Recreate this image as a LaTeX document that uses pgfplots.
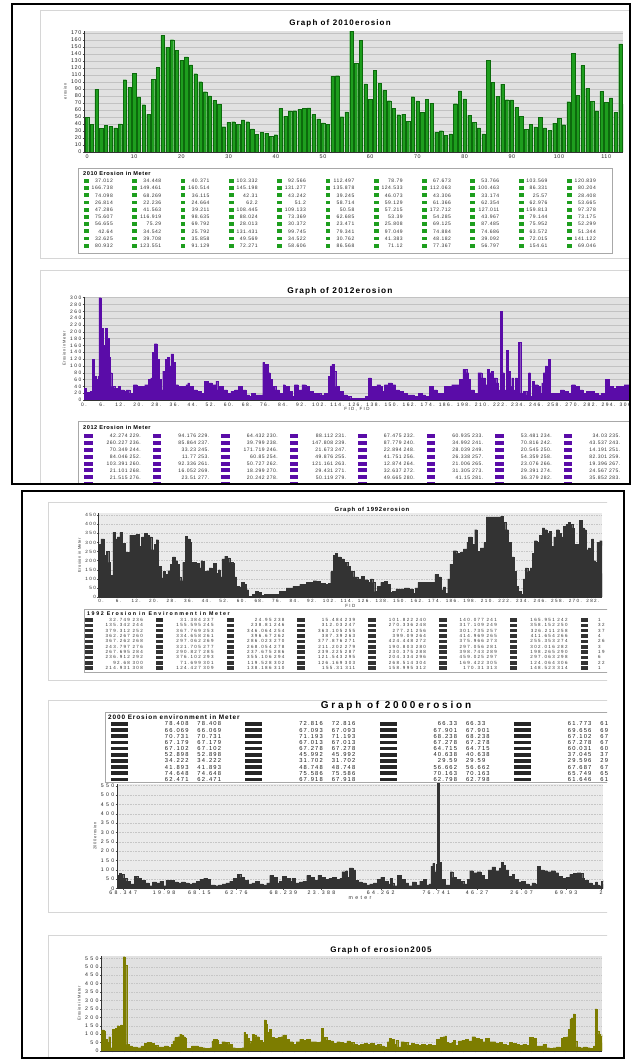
\documentclass[border=0pt]{standalone}
\usepackage{fontspec}
\setmainfont{Liberation Sans}[LetterSpace=10]
\newfontfamily\ttl{Liberation Sans}[LetterSpace=14]
\newfontfamily\ttw{Liberation Sans}[LetterSpace=28]
\newfontfamily\wa{Liberation Sans}[LetterSpace=30]
\newfontfamily\wb{Liberation Sans}[LetterSpace=45]
\newfontfamily\wc{Liberation Sans}[LetterSpace=20]
\usepackage{pgfplots}
\pgfplotsset{compat=1.18}
\definecolor{bgA}{HTML}{E1E1E1}
\definecolor{bgB}{HTML}{EBEBEB}
\definecolor{gridA}{HTML}{C2C2C2}
\definecolor{gridB}{HTML}{C6C6C6}
\definecolor{grn}{HTML}{1E9E1E}
\definecolor{grnd}{HTML}{0C6A0C}
\definecolor{pur}{HTML}{5A0CA8}
\definecolor{drk}{HTML}{333333}
\definecolor{olv}{HTML}{7D7D00}
\definecolor{lin}{HTML}{D6D6D6}
\definecolor{tbx}{HTML}{A8A8A8}
\newcommand\fs[1]{\fontsize{#1}{#1}\selectfont}
\pgfplotsset{
  jf/.style={
    scale only axis, anchor=south west,
    axis x line*=bottom, axis y line*=left,
    axis line style={black!80, line width=0.5pt},
    tick align=outside, major tick length=1.5pt,
    tick style={black!70, line width=0.35pt},
    ymajorgrids,
    axis background/.style={fill=bgA},
    /pgf/number format/assume math mode=true,
    tick label style={text=black!85, inner sep=1pt},
    ylabel style={text=black!80, font=\fs{4}},
    xlabel style={text=black!80, font=\wa\fs{4.5}, inner sep=0.5pt},
    scaled ticks=false,
  }
}
\begin{document}
\begin{tikzpicture}[x=1pt,y=1pt]
\useasboundingbox (0,0) rectangle (634,1063);
\fill[white] (0,0) rectangle (634,1063);

% ================= TOP BOX =================
\begin{scope}
\clip (12,579) rectangle (630,1059);
\draw[lin, line width=0.6pt] (40,1053) -- (634,1053);
\draw[lin, line width=0.6pt] (40,805) -- (634,805);
\draw[lin, line width=0.6pt] (40,793) -- (634,793);
\draw[lin, line width=0.6pt] (40,1053) -- (40,805);
\draw[lin, line width=0.6pt] (40,793) -- (40,570);

\node[font=\ttl\bfseries\fs{8}] at (340,1040) {Graph of 2010erosion};
\begin{axis}[jf, at={(84pt,911pt)}, width=539pt, height=121pt,
  ybar, bar width=3.3pt,
  xmin=-0.64, xmax=113.56, ymin=0, ymax=173,
  xtick={0,10,...,110}, ytick={0,10,...,170},
  grid style={gridA, line width=0.4pt},
  tick label style={font=\fs{5.4}},
  ylabel={erosion}]
\addplot[fill=grn, draw=grnd, line width=0.2pt] coordinates {
(0,50)(1,40)(2,90)(3,34)(4,38)(5,37.012)(6,34.448)(7,40.371)(8,103.332)(9,92.566)
(10,112.497)(11,78.79)(12,67.673)(13,53.766)(14,103.569)(15,120.839)(16,166.738)(17,149.461)(18,160.514)(19,145.198)
(20,131.277)(21,135.878)(22,124.533)(23,112.063)(24,100.463)(25,86.331)(26,80.204)(27,74.098)(28,68.269)(29,36.115)
(30,42.31)(31,43.242)(32,39.245)(33,46.073)(34,43.306)(35,33.174)(36,25.57)(37,28.408)(38,26.814)(39,22.236)
(40,24.664)(41,62.2)(42,51.2)(43,58.714)(44,59.129)(45,61.366)(46,62.354)(47,62.976)(48,53.665)(49,47.286)
(50,41.563)(51,39.211)(52,108.445)(53,109.133)(54,50.58)(55,57.215)(56,172.712)(57,127.011)(58,159.813)(59,97.378)
(60,75.607)(61,116.919)(62,98.635)(63,88.024)(64,73.369)(65,62.685)(66,53.39)(67,54.285)(68,43.967)(69,79.144)
(70,73.175)(71,56.655)(72,75.29)(73,69.792)(74,28.013)(75,30.372)(76,23.471)(77,25.808)(78,69.125)(79,87.485)
(80,75.952)(81,52.299)(82,42.64)(83,34.542)(84,25.792)(85,131.431)(86,99.745)(87,79.341)(88,97.049)(89,74.884)
(90,74.686)(91,63.572)(92,51.344)(93,32.625)(94,39.708)(95,35.858)(96,49.569)(97,34.522)(98,30.762)(99,41.383)
(100,48.182)(101,39.092)(102,72.015)(103,141.122)(104,80.932)(105,123.551)(106,91.129)(107,72.271)(108,58.606)(109,86.568)
(110,71.12)(111,77.367)(112,56.797)(113,154.61)(114,69.046)};
\end{axis}

% 2010 table
\draw[tbx, line width=0.5pt, fill=white] (78,895) rectangle (612,810);
\node[anchor=west, inner sep=0, font=\bfseries\fs{5.6}] at (83,889) {2010 Erosion in Meter};
\foreach \v [count=\i from 0] in {37.012,34.448,40.371,103.332,92.566,112.497,78.79,67.673,53.766,103.569,120.839,
166.738,149.461,160.514,145.198,131.277,135.878,124.533,112.063,100.463,86.331,80.204,
74.098,68.269,36.115,42.31,43.242,39.245,46.073,43.306,33.174,25.57,28.408,
26.814,22.236,24.664,62.2,51.2,58.714,59.129,61.366,62.354,62.976,53.665,
47.286,41.563,39.211,108.445,109.133,50.58,57.215,172.712,127.011,159.813,97.378,
75.607,116.919,98.635,88.024,73.369,62.685,53.39,54.285,43.967,79.144,73.175,
56.655,75.29,69.792,28.013,30.372,23.471,25.808,69.125,87.485,75.952,52.299,
42.64,34.542,25.792,131.431,99.745,79.341,97.049,74.884,74.686,63.572,51.344,
32.625,39.708,35.858,49.569,34.522,30.762,41.383,48.182,39.092,72.015,141.122,
80.932,123.551,91.129,72.271,58.606,86.568,71.12,77.367,56.797,154.61,69.046} {
  \pgfmathtruncatemacro\rr{\i/11}
  \pgfmathtruncatemacro\cc{\i-11*\rr}
  \fill[grn] ({84+48.3*\cc},{882-7.2*\rr-1.9}) rectangle ++(4.8,3.8);
  \node[anchor=east, inner sep=0, text=black!80, font=\fs{5}] at ({113+48.3*\cc},{882-7.2*\rr}) {\v};
}

\node[font=\ttl\bfseries\fs{8.3}] at (340,772) {Graph of 2012erosion};
\begin{axis}[jf, at={(84pt,663pt)}, width=546pt, height=103pt,
  xmin=118, xmax=1576, ymin=0, ymax=302,
  xtick={118,166.3,...,1570},
  xticklabels={0.,6.,12.,20.,28.,36.,44.,52.,60.,68.,76.,84.,92.,102.,114.,126.,138.,150.,162.,174.,186.,198.,210.,222.,234.,246.,258.,270.,282.,294.,306.},
  ytick={0,20,...,300},
  grid style={gridA, line width=0.4pt},
  tick label style={font=\wa\fs{4.9}},
  xlabel={FID, FID}, ylabel={Erosion in Meter}]
\addplot[const plot, fill=pur, draw=pur, line width=0.25pt] coordinates {
(118,35)(124,22)(135,25)(140,120)(145,70)(150,60)(155,70)(158,300)(164,210)(170,160)
(175,210)(180,180)(185,125)(188,80)(192,40)(200,35)(210,40)(215,30)(225,25)(230,30)
(240,20)(250,45)(260,40)(270,40)(280,45)(290,60)(296,65)(300,140)(306,165)(313,120)
(318,60)(323,30)(328,85)(335,120)(340,125)(345,100)(350,135)(357,110)(362,45)(370,40)
(380,40)(390,45)(395,50)(400,40)(410,30)(420,25)(430,20)(440,55)(450,50)(460,45)
(470,55)(475,30)(480,40)(490,30)(500,20)(510,25)(520,30)(530,40)(540,30)(550,15)
(560,10)(565,20)(575,15)(590,15)(595,110)(600,105)(610,80)(615,60)(620,40)(630,30)
(640,20)(650,45)(655,40)(665,25)(675,10)(680,45)(690,30)(700,45)(710,40)(720,25)
(730,20)(740,20)(750,15)(760,20)(770,70)(775,100)(780,105)(785,85)(790,40)(800,25)
(810,15)(820,10)(830,5)(860,5)(870,10)(878,65)(885,40)(895,40)(900,45)(910,40)
(915,25)(920,45)(930,50)(940,45)(950,30)(960,25)(970,20)(980,15)(1000,10)(1010,20)
(1020,15)(1030,10)(1040,40)(1050,30)(1060,20)(1080,40)(1100,45)(1120,60)(1130,90)(1140,80)
(1145,60)(1150,30)(1160,20)(1170,80)(1180,65)(1190,45)(1195,90)(1200,80)(1205,85)(1210,65)
(1220,50)(1225,30)(1230,260)(1235,80)(1240,30)(1245,145)(1250,85)(1255,40)(1260,65)(1265,30)
(1270,65)(1275,20)(1278,170)(1284,20)(1290,25)(1300,15)(1305,80)(1310,10)(1315,55)(1320,45)
(1330,40)(1335,20)(1340,50)(1345,80)(1350,100)(1355,90)(1358,120)(1362,20)(1380,20)(1390,30)
(1400,25)(1410,20)(1420,45)(1430,40)(1440,30)(1450,20)(1460,25)(1480,20)(1490,15)(1500,20)
(1510,60)(1520,40)(1530,35)(1540,40)(1550,40)(1560,45)(1576,40)} \closedcycle;
\end{axis}

% 2012 table
\draw[tbx, line width=0.5pt, fill=white] (78,642) rectangle (640,570);
\node[anchor=west, inner sep=0, font=\bfseries\fs{5.6}] at (83,635) {2012 Erosion in Meter};
\foreach \v [count=\i from 0] in {42.274 229.,94.176 229.,64.432 230.,88.112 231.,67.475 232.,60.935 233.,53.481 234.,34.03 235.,
260.227 236.,85.864 237.,39.799 238.,147.808 239.,87.779 240.,34.992 241.,70.816 242.,43.537 243.,
70.349 244.,33.23 245.,171.719 246.,21.673 247.,22.894 248.,28.039 249.,20.545 250.,14.191 251.,
84.046 252.,11.77 253.,60.85 254.,49.876 255.,41.751 256.,26.338 257.,54.359 258.,82.301 259.,
103.391 260.,92.336 261.,50.727 262.,121.161 263.,12.874 264.,21.006 265.,23.076 266.,19.396 267.,
21.101 268.,16.052 269.,18.299 270.,29.431 271.,32.637 272.,31.305 273.,29.391 274.,24.567 275.,
21.515 276.,23.51 277.,20.242 278.,50.119 279.,49.665 280.,41.15 281.,36.379 282.,35.852 283.} {
  \pgfmathtruncatemacro\rr{\i/8}
  \pgfmathtruncatemacro\cc{\i-8*\rr}
  \fill[pur] ({84+68.5*\cc},{627-6.9*\rr-2}) rectangle ++(8.5,4);
  \node[anchor=east, inner sep=0, text=black!80, font=\fs{5}] at ({141+68.5*\cc},{627-6.9*\rr}) {\v};
}
\foreach \cc in {0,...,7} {\fill[pur] ({84+68.5*\cc},{627-6.9*7-2}) rectangle ++(8.5,4);}
\end{scope}
\draw[black, line width=1.6pt] (12,579) rectangle (630,1059);

% ================= BOTTOM BOX =================
\begin{scope}
\clip (22,5) rectangle (607,572);
\draw[lin, line width=0.6pt] (48,561) -- (634,561);
\draw[lin, line width=0.6pt] (48,383) -- (634,383);
\draw[lin, line width=0.6pt] (48,363) -- (634,363);
\draw[lin, line width=0.6pt] (48,151) -- (634,151);
\draw[lin, line width=0.6pt] (48,128) -- (634,128);
\draw[lin, line width=0.6pt] (48,561) -- (48,383);
\draw[lin, line width=0.6pt] (48,363) -- (48,151);
\draw[lin, line width=0.6pt] (48,128) -- (48,0);

% 1992
\node[font=\ttl\bfseries\fs{5.9}] at (372,553) {Graph of 1992erosion};
\begin{axis}[jf, at={(98.6pt,466pt)}, width=503.4pt, height=83.5pt,
  xmin=55, xmax=1545, ymin=0, ymax=459,
  xtick={62,114,...,1518},
  xticklabels={0.,6.,12.,20.,28.,36.,44.,52.,60.,68.,76.,84.,92.,102.,114.,126.,138.,150.,162.,174.,186.,198.,210.,222.,234.,246.,258.,270.,282.},
  ytick={0,50,...,450},
  axis background/.style={fill=bgB},
  grid style={gridB, line width=0.4pt, dash pattern=on 1.5pt off 1pt},
  tick label style={font=\wa\fs{4.6}},
  xlabel={FID}, ylabel={Erosion in Meter}]
\addplot[const plot, fill=drk, draw=drk, line width=0.2pt] coordinates {
(55,290)(62,320)(72,230)(78,250)(85,190)(90,120)(97,355)(103,320)(110,330)(118,355)
(126,295)(133,245)(147,340)(165,345)(175,280)(182,330)(190,350)(198,340)(205,330)(212,260)
(220,290)(225,315)(232,170)(240,105)(245,140)(252,125)(260,145)(267,180)(274,220)(282,200)
(288,180)(293,110)(298,90)(304,190)(312,335)(318,320)(325,300)(330,190)(345,185)(352,160)
(358,200)(364,195)(368,140)(376,145)(382,160)(390,145)(395,185)(402,130)(410,150)(415,110)
(420,210)(428,225)(436,215)(443,190)(452,185)(457,110)(463,60)(472,55)(478,80)(485,70)
(492,40)(498,5)(510,15)(518,30)(527,25)(535,10)(545,15)(575,15)(590,30)(610,50)
(630,60)(650,70)(670,80)(690,90)(700,85)(710,75)(725,70)(735,75)(742,140)(750,230)
(756,240)(762,220)(772,210)(782,190)(792,170)(800,140)(810,110)(822,100)(832,115)(842,95)
(852,80)(860,100)(866,80)(872,30)(880,60)(890,80)(900,85)(910,70)(918,25)(925,30)
(935,45)(960,50)(975,45)(985,20)(992,50)(1000,80)(1040,80)(1050,125)(1060,110)(1068,40)
(1075,55)(1082,20)(1088,100)(1095,180)(1105,255)(1115,240)(1125,245)(1135,265)(1145,300)(1150,330)
(1160,290)(1168,370)(1175,250)(1185,270)(1195,300)(1202,440)(1245,445)(1252,410)(1260,370)(1268,300)
(1276,220)(1284,140)(1292,60)(1298,30)(1306,15)(1312,100)(1318,160)(1325,140)(1332,160)(1338,240)
(1345,310)(1352,300)(1360,340)(1368,380)(1375,370)(1382,350)(1388,360)(1395,280)(1402,330)(1410,370)
(1418,350)(1425,330)(1430,390)(1438,400)(1445,410)(1452,400)(1458,380)(1462,290)(1470,290)(1478,420)
(1486,380)(1492,370)(1498,260)(1504,270)(1510,250)(1514,320)(1520,200)(1526,190)(1530,300)(1538,310)
(1545,260)} \closedcycle;
\end{axis}

% 1992 table
\draw[tbx, line width=0.5pt, fill=white] (84,454) rectangle (640,391);
\node[anchor=west, inner sep=0, font=\wa\bfseries\fs{5.3}] at (87,449) {1992 Erosion in Environment in Meter};
\foreach \v [count=\i from 0] in {32.749 236,31.384 237,24.95 238,15.484 239,101.822 240,140.077 241,165.951 242,
135.342 244,155.595 245,238.81 246,312.03 247,270.336 248,317.109 249,358.152 250,
379.312 252,367.769 253,346.064 254,363.105 255,277.21 256,301.735 257,326.211 258,
362.267 260,334.658 261,396.67 262,387.39 263,399.09 264,414.969 265,411.654 266,
367.262 268,297.062 269,286.023 270,377.876 271,424.448 272,375.966 273,255.353 274,
243.797 276,321.705 277,268.054 278,211.202 279,190.803 280,297.056 281,302.016 282,
267.695 284,290.827 285,237.675 286,239.225 287,230.375 288,398.743 289,198.265 290,
236.912 292,376.102 293,355.106 294,121.543 295,204.334 296,459.025 297,297.063 298,
92.68 300,71.699 301,119.528 302,126.169 303,268.514 304,169.422 305,124.064 306,
214.931 308,124.427 309,138.186 310,155.31 311,158.995 312,170.31 313,148.523 314} {
  \pgfmathtruncatemacro\rr{\i/7}
  \pgfmathtruncatemacro\cc{\i-7*\rr}
  \fill[drk] ({85+70.8*\cc},{443-5.35*\rr-1.8}) rectangle ++(7.5,3.6);
  \node[anchor=east, inner sep=0, text=black!80, font=\wa\fs{4.5}] at ({143+70.8*\cc},{443-5.35*\rr}) {\v};
}
\foreach \t [count=\i from 0] in {1,32,37,4,26,3,19,6,22,1} {
  \fill[drk] ({85+70.8*7},{443-5.35*\i-1.8}) rectangle ++(7.5,3.6);
  \node[anchor=west, inner sep=0, text=black!80, font=\wa\fs{4.5}] at (598,{443-5.35*\i}) {\t};
}

% 2000
\node[font=\ttw\bfseries\fs{10}] at (396,357) {Graph of 2000erosion};
\draw[tbx, line width=0.5pt, fill=white] (105,351) rectangle (640,280.5);
\node[anchor=west, inner sep=0, font=\ttl\bfseries\fs{6.4}] at (108,346) {2000 Erosion environment in Meter};
\foreach \v [count=\i from 0] in {78.408,72.816,66.33,61.773,
66.069,67.093,67.901,69.656,
70.731,71.193,68.238,67.102,
67.179,67.013,67.278,67.278,
67.102,67.278,64.715,60.031,
52.898,45.992,40.638,37.045,
34.222,31.702,29.59,29.596,
41.893,48.748,56.662,67.687,
74.648,75.586,70.163,65.749,
62.471,67.918,62.798,61.646} {
  \pgfmathtruncatemacro\rr{\i/4}
  \pgfmathtruncatemacro\cc{\i-4*\rr}
  \fill[black!85] ({111+134.3*\cc},{339-6.15*\rr-1.8}) rectangle ++(17,3.6);
  \node[anchor=center, inner sep=0, text=black!90, font=\wc\fs{5.8}] at ({193+134.3*\cc},{339-6.15*\rr}) {\v\hspace{9pt}\v};
}
\begin{axis}[jf, at={(117pt,174.5pt)}, width=486pt, height=104.5pt,
  xmin=208, xmax=1520, ymin=0, ymax=559,
  xtick={225,335,430,530,657,760,920,1070,1180,1300,1420,1515},
  xticklabels={68.347,19.98,68.15,62.76,68.239,23.388,64.262,76.741,46.27,26.07,69.93,2},
  ytick={0,50,...,550},
  axis background/.style={fill=bgB},
  grid style={gridB, line width=0.4pt, dash pattern=on 0.8pt off 0.8pt},
  tick label style={font=\wb\fs{5.2}},
  xlabel style={font=\wb\fs{5.2}},
  xlabel={meter}, ylabel={2000 erosion}]
\addplot[const plot, fill=drk, draw=drk, line width=0.2pt] coordinates {
(208,70)(214,80)(220,75)(226,55)(234,40)(244,25)(254,65)(264,55)(274,45)(284,30)
(294,15)(304,35)(314,30)(324,40)(332,15)(340,45)(352,45)(362,35)(372,30)(382,35)
(392,30)(402,25)(412,30)(422,40)(432,50)(442,55)(452,50)(460,20)(472,15)(482,20)
(492,25)(502,30)(512,40)(522,55)(532,75)(542,60)(552,45)(562,25)(572,30)(582,40)
(592,25)(602,20)(612,30)(620,70)(630,60)(640,30)(646,40)(655,65)(665,55)(675,40)
(680,55)(690,30)(700,35)(710,40)(720,70)(730,60)(740,45)(750,70)(760,60)(770,50)
(780,55)(790,60)(800,50)(810,55)(815,90)(825,95)(830,60)(835,110)(845,100)(852,45)
(860,35)(870,30)(880,20)(890,25)(900,30)(910,50)(920,60)(930,40)(940,25)(945,55)
(950,30)(955,15)(965,70)(975,50)(985,30)(995,15)(1005,35)(1015,20)(1025,40)(1035,50)
(1042,20)(1050,25)(1055,120)(1060,135)(1065,90)(1070,130)(1073,600)(1078,140)(1083,50)(1093,20)
(1105,20)(1108,90)(1114,60)(1124,50)(1134,40)(1144,25)(1154,50)(1160,95)(1170,85)(1180,90)
(1190,70)(1200,50)(1210,100)(1220,115)(1230,95)(1240,110)(1245,140)(1250,125)(1256,100)(1265,65)
(1275,75)(1280,50)(1290,35)(1300,40)(1310,25)(1320,15)(1328,30)(1336,25)(1343,120)(1350,100)
(1360,95)(1370,90)(1380,95)(1390,85)(1400,65)(1410,55)(1420,60)(1430,75)(1440,80)(1450,85)
(1460,80)(1465,55)(1470,45)(1480,30)(1490,20)(1500,35)(1505,20)(1510,15)(1515,40)(1520,45)} \closedcycle;
\end{axis}

% 2005
\node[font=\ttl\bfseries\fs{8}] at (381,113) {Graph of erosion2005};
\begin{axis}[jf, at={(101.3pt,12pt)}, width=500.7pt, height=95pt,
  xmin=63, xmax=1545, ymin=0, ymax=564,
  xtick={63,96.5,...,1545}, xticklabels={},
  ytick={0,50,...,550},
  grid style={gridB, line width=0.4pt, dash pattern=on 1.5pt off 1pt},
  tick label style={font=\wb\fs{5.2}},
  ylabel={Erosion in Meter}]
\addplot[const plot, fill=olv, draw=olv, line width=0.2pt] coordinates {
(63,125)(70,120)(75,70)(80,50)(85,85)(90,20)(95,130)(100,125)(105,135)(110,150)
(115,130)(120,155)(125,90)(128,560)(133,510)(138,40)(145,30)(155,25)(170,20)(180,30)
(190,45)(200,50)(210,45)(220,35)(230,25)(250,30)(260,25)(270,40)(275,60)(280,80)
(290,85)(295,100)(300,95)(305,85)(310,75)(315,15)(325,10)(330,30)(340,30)(350,25)
(360,20)(370,15)(385,20)(390,60)(395,70)(405,65)(410,40)(420,55)(430,50)(440,40)
(450,20)(460,15)(480,20)(485,110)(490,100)(495,75)(500,60)(505,45)(510,100)(515,95)
(520,85)(530,65)(540,50)(545,185)(550,160)(555,110)(560,130)(565,80)(575,75)(585,80)
(595,85)(600,95)(610,70)(620,55)(630,40)(640,55)(650,70)(660,65)(670,70)(680,55)
(700,50)(710,55)(715,135)(720,80)(730,65)(740,60)(750,45)(760,55)(770,50)(780,45)
(790,60)(800,50)(810,40)(820,35)(830,40)(840,45)(850,40)(860,45)(870,35)(880,40)
(890,30)(900,25)(910,55)(915,75)(920,55)(925,70)(930,40)(935,65)(940,25)(950,55)
(960,50)(970,35)(980,45)(990,40)(1000,35)(1010,40)(1020,35)(1030,40)(1040,35)(1050,30)
(1055,70)(1065,80)(1075,85)(1080,90)(1085,50)(1090,45)(1100,50)(1105,65)(1110,35)(1120,60)
(1130,65)(1140,70)(1150,60)(1160,85)(1170,75)(1180,70)(1190,55)(1200,75)(1210,55)(1230,45)
(1240,50)(1250,40)(1260,35)(1270,50)(1280,45)(1290,40)(1300,35)(1310,40)(1320,35)(1330,80)
(1340,75)(1350,30)(1370,40)(1380,20)(1390,15)(1400,20)(1410,25)(1420,15)(1425,75)(1430,80)
(1435,70)(1440,85)(1445,130)(1450,190)(1455,195)(1460,220)(1465,60)(1470,25)(1480,20)(1490,25)
(1500,20)(1510,15)(1520,30)(1525,250)(1530,120)(1535,100)(1540,90)(1545,100)} \closedcycle;
\end{axis}
\end{scope}
\draw[black, line width=1.6pt] (22,5) rectangle (624,572);
\end{tikzpicture}
\end{document}
